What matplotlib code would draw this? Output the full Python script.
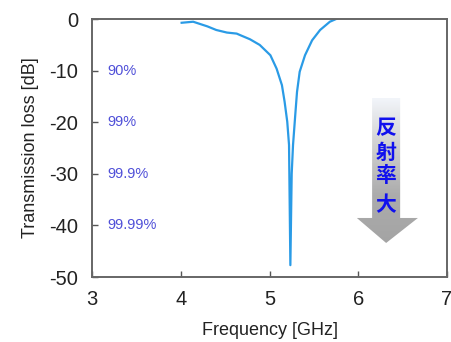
import numpy as np
import matplotlib
matplotlib.use("Agg")
import matplotlib.pyplot as plt
from matplotlib.patches import Polygon
from matplotlib.colors import LinearSegmentedColormap

# Data
freq = [4.01, 4.14, 4.30, 4.40, 4.52, 4.63, 4.67, 4.78, 4.89, 5.01, 5.08, 5.14, 5.17,
        5.20, 5.22, 5.235, 5.25, 5.265, 5.29, 5.31, 5.34, 5.40, 5.48, 5.57, 5.68, 5.76]
loss = [-0.7, -0.5, -1.4, -2.1, -2.6, -2.8, -3.1, -3.9, -5.0, -7.0, -9.6, -12.8, -16.0,
        -19.9, -24.4, -47.7, -30.0, -24.4, -18.6, -14.1, -10.2, -7.0, -4.1, -2.1, -0.5, 0.1]
pct_levels = [-10, -20, -30, -40]
pct_labels = ["90%", "99%", "99.9%", "99.99%"]
arrow_chars = ["反", "射", "率", "大"]

plt.rcParams['font.family'] = ['Liberation Sans', 'DejaVu Sans']
plt.rcParams['axes.unicode_minus'] = False

fig = plt.figure(figsize=(4.52, 3.42), dpi=100)
ax = fig.add_axes([0.2035, 0.190, 0.7855, 0.754])

ax.plot(freq, loss, color='#2a9be6', lw=1.6, clip_on=True)
ax.set_xlim(3, 7)
ax.set_ylim(-50, 0)
ax.set_xticks([3, 4, 5, 6, 7])
ax.set_yticks([0, -10, -20, -30, -40, -50])
ax.tick_params(direction='in', length=4, width=1, colors='#555555', labelcolor='#222222',
               labelsize=14.5)
ax.tick_params(axis='x', pad=9)
ax.tick_params(axis='y', pad=10)
for s in ax.spines.values():
    s.set_color('#666666')
    s.set_linewidth(1.4)
ax.set_xlabel('Frequency [GHz]', fontsize=13, color='#222222', labelpad=10)
ax.set_ylabel('Transmission loss [dB]', fontsize=13, color='#222222', labelpad=7)

for lv, lb in zip(pct_levels, pct_labels):
    ax.text(3.17, lv, lb, color='#4f4fd8', fontsize=10.5, va='center', ha='left')

# Gradient arrow
x0, x1 = 0.789, 0.868
hx0, hx1 = 0.746, 0.918
ytop, yhead, ytip = 0.694, 0.229, 0.132
arrow_xy = [(x0, ytop), (x1, ytop), (x1, yhead), (hx1, yhead), ((x0 + x1) / 2, ytip),
            (hx0, yhead), (x0, yhead)]
poly = Polygon(arrow_xy, closed=True, transform=ax.transAxes, facecolor='none',
               edgecolor='none')
ax.add_patch(poly)
grad = np.linspace(0, 1, 256).reshape(-1, 1)
cmap = LinearSegmentedColormap.from_list('g', ['#f2f5fa', '#cfcfcf', '#acacac', '#a4a4a4'])
im = ax.imshow(grad, cmap=cmap, aspect='auto', extent=[hx0, hx1, ytip, ytop],
               transform=ax.transAxes, origin='upper', zorder=2)
im.set_clip_path(poly)

for ch, yy in zip(arrow_chars, [0.581, 0.484, 0.395, 0.279]):
    ax.text(0.828, yy, ch, transform=ax.transAxes, ha='center', va='center',
            fontsize=15, fontweight='bold', color='#1010ee',
            family=['Noto Sans CJK JP', 'DejaVu Sans'], zorder=3)

fig.savefig('out.png', dpi=100)
